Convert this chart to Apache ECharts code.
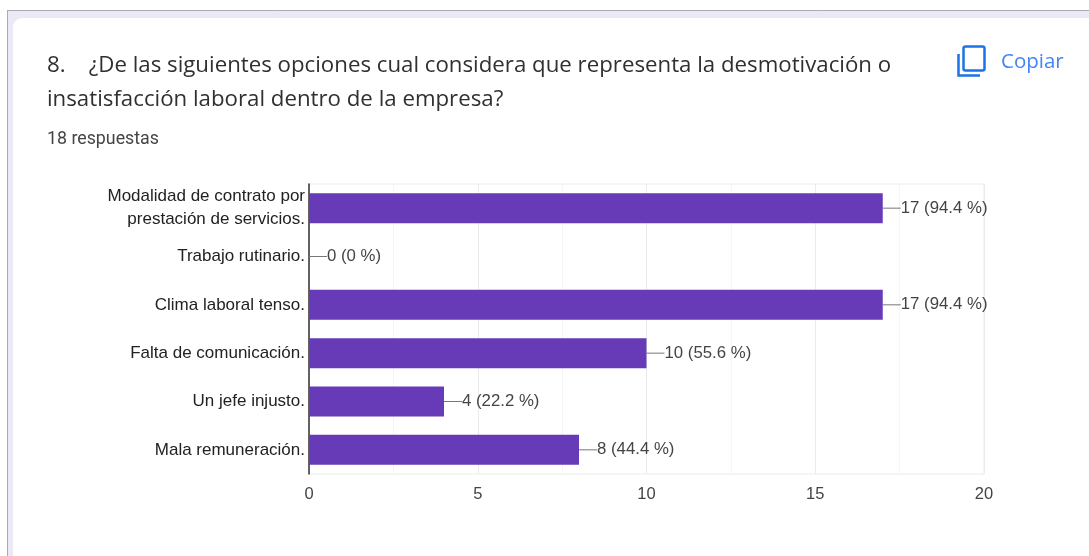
<!DOCTYPE html>
<html><head><meta charset="utf-8">
<style>html,body{margin:0;padding:0;background:#fff}#c{width:1089px;height:556px}</style>
<script src="https://cdn.jsdelivr.net/npm/echarts@6/dist/echarts.min.js"></script>
</head><body><div id="c"></div>
<script>
const categories = ["Modalidad de contrato por\nprestación de servicios.","Trabajo rutinario.","Clima laboral tenso.","Falta de comunicación.","Un jefe injusto.","Mala remuneración."];
const counts = [17,0,17,10,4,8];
const percents = ["94.4","0","94.4","55.6","22.2","44.4"];
const xTicks = [0,5,10,15,20];
const titleLine1 = "8.    ¿De las siguientes opciones cual considera que representa la desmotivación o";
const titleLine2 = "insatisfacción laboral dentro de la empresa?";
const subtitle = "18 respuestas";
const copyLabel = "Copiar";

const chart = echarts.init(document.getElementById('c'), null, {renderer:'canvas'});
const headFont = '"Open Sans", "Noto Sans", sans-serif';
chart.setOption({
  animation:false,
  backgroundColor:'#ffffff',
  textStyle:{fontFamily:'"Liberation Sans", Arial, sans-serif'},
  grid:{show:true,left:309,right:105,top:184,bottom:82,containLabel:false,borderColor:'#ebebeb',borderWidth:1,backgroundColor:'transparent'},
  xAxis:{type:'value',min:0,max:20,interval:5,
    axisLine:{show:false},axisTick:{show:false},
    axisLabel:{color:'#444444',fontSize:16.5,margin:12,customValues:xTicks,formatter:v=>String(v)},
    splitLine:{show:true,lineStyle:{color:'#ebebeb',width:1}},
    minorTick:{show:false,splitNumber:2},
    minorSplitLine:{show:true,lineStyle:{color:'#f5f5f5',width:1}}},
  yAxis:{type:'category',inverse:true,data:categories,
    axisLine:{show:true,onZero:false,lineStyle:{color:'#333333',width:1.5}},axisTick:{show:false},
    axisLabel:{color:'#222222',fontSize:17,margin:4,lineHeight:23,align:'right',padding:[4,0,0,0]}},
  series:[{type:'bar',data:counts,barWidth:30,itemStyle:{color:'#673ab7'},
    label:{show:true,position:'right',distance:0,color:'#444444',fontSize:16.8,padding:[4,0,0,0],
      formatter:p=>`${counts[p.dataIndex]} (${percents[p.dataIndex]} %)`},
    labelLine:{show:true,lineStyle:{color:'#777777',width:1}},
    labelLayout:{dx:18}}],
  graphic:[
    {type:'rect',silent:true,z:-5,shape:{x:7,y:10,width:1082,height:546},style:{fill:'#ece9f7'}},
    {type:'line',silent:true,z:-4,shape:{x1:7,y1:10.5,x2:1089,y2:10.5},style:{stroke:'#aeaab5',lineWidth:1}},
    {type:'line',silent:true,z:-4,shape:{x1:7.5,y1:10,x2:7.5,y2:556},style:{stroke:'#aeaab5',lineWidth:1}},
    {type:'rect',silent:true,z:-3,shape:{x:13,y:18,width:1100,height:560,r:9},style:{fill:'#ffffff'}},
    {type:'text',silent:true,x:47,y:55,style:{text:titleLine1,font:'22.25px '+headFont,fill:'#303030'}},
    {type:'text',silent:true,x:47,y:89,style:{text:titleLine2,font:'22.25px '+headFont,fill:'#303030'}},
    {type:'text',silent:true,x:47,y:131,style:{text:subtitle,font:'17.8px Roboto, sans-serif',fill:'#444444'}},
    {type:'text',silent:true,x:1001,y:52,style:{text:copyLabel,font:'20.5px '+headFont,fill:'#4285f4'}},
    {type:'rect',silent:true,shape:{x:963.5,y:46.5,width:21,height:24,r:2},style:{fill:'none',stroke:'#1a73e8',lineWidth:2.5}},
    {type:'polyline',silent:true,shape:{points:[[958.5,54],[958.5,75.5],[980,75.5]]},style:{fill:'none',stroke:'#1a73e8',lineWidth:2.5}}
  ]
});
</script></body></html>
